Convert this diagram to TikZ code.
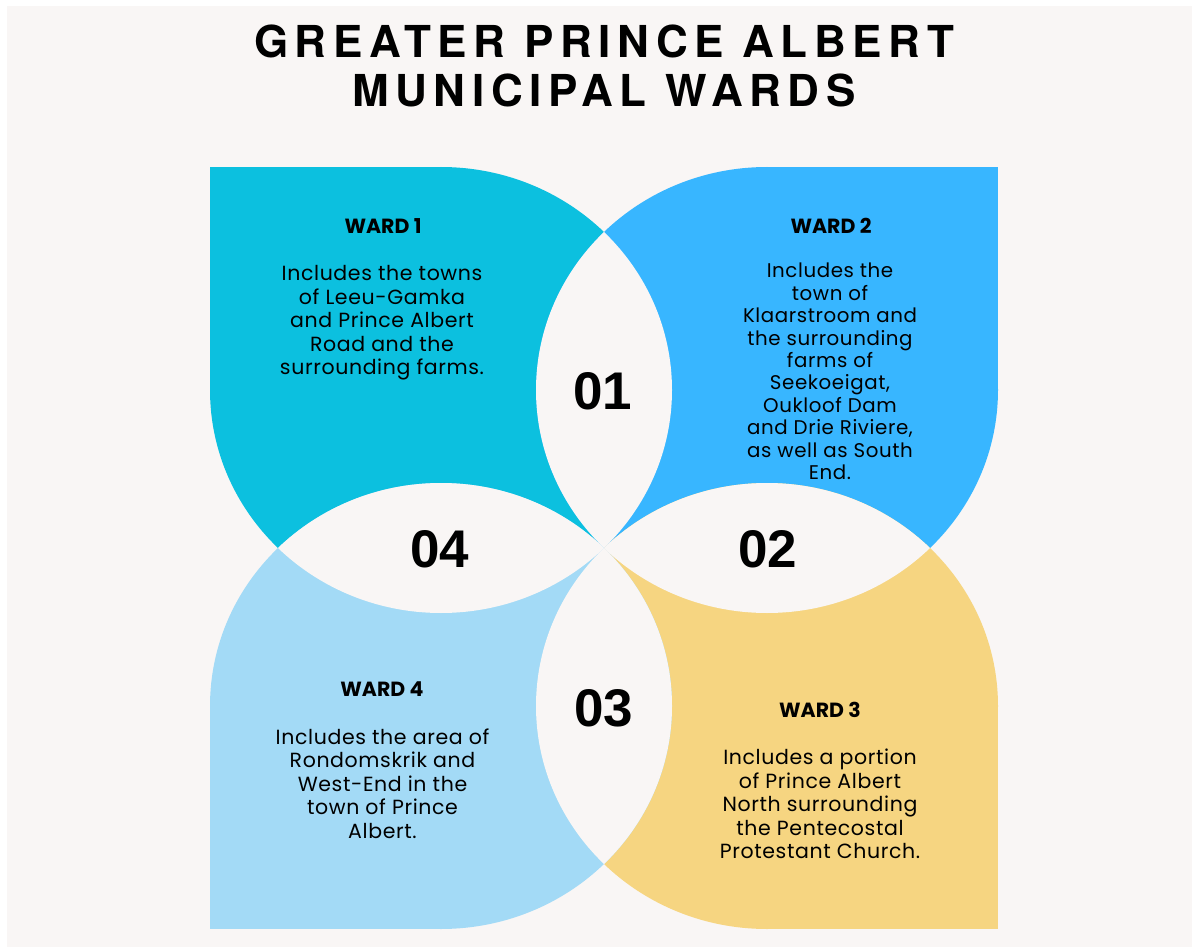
\documentclass[tikz,border=0pt]{standalone}
\usepackage{fontspec}
\setmainfont{Poppins}
\newfontfamily\titlefont[LetterSpace=15]{TeX Gyre Heros}
\newfontfamily\bodyfont[LetterSpace=3]{Poppins}
\newfontfamily\numberfont{Liberation Sans}
\usepackage{tikz}

\definecolor{paper}{HTML}{F9F6F5}
\definecolor{wardA}{HTML}{0CC0DF}
\definecolor{wardB}{HTML}{38B6FF}
\definecolor{wardC}{HTML}{F6D581}
\definecolor{wardD}{HTML}{A3DAF6}

\tikzset{
	wardlabel/.style = {font = \fontsize{20.5}{22}\selectfont\bfseries},
	wardtext/.style = {align = center, font = \bodyfont\fontsize{20.5}{23.5}\selectfont},
	wardnumber/.style = {font = \numberfont\bfseries\fontsize{53}{53}\selectfont}
}

\begin{document}
\begin{tikzpicture}[x = 1pt, y = -1pt]

	% Definition
	
	\def\RX{231}	% Horizontal radius of petal
	\def\RY{223}	% Vertical radius of petal
	
	% Page
	
	\useasboundingbox (0, 0) rectangle (1192, 947);
	\fill [white] (0, 0) rectangle (1192, 947);
	\fill [paper] (7, 6) rectangle (1192, 947);
	
	% Petals: square corner + ellipse
	
	\foreach \cx/\cy/\kx/\ky/\col in {441/390/210/167/wardA, 767/390/998/167/wardB, 767/706/998/929/wardC, 441/706/210/929/wardD}
	{
		\fill [\col] (\kx, \ky) rectangle (\cx, \cy);
		\fill [\col] (\cx, \cy) ellipse [x radius = \RX, y radius = \RY];
	}
	
	% Overlaps of neighbouring petals
	
	\foreach \ax/\ay/\bx/\by in {441/390/767/390, 767/390/767/706, 767/706/441/706, 441/706/441/390}
	{
		\begin{scope}
			\clip (\ax, \ay) ellipse [x radius = \RX, y radius = \RY];
			\fill [paper] (\bx, \by) ellipse [x radius = \RX, y radius = \RY];
		\end{scope}
	}
	
	% Title
	
	\node [align = center, font = \titlefont\bfseries\fontsize{44}{49}\selectfont] (title) at (604, 66) {GREATER PRINCE ALBERT\\MUNICIPAL WARDS};
	
	% Ward labels
	
	\node [wardlabel] (label1) at (383, 226) {WARD 1};
	\node [wardlabel] (label2) at (831, 226) {WARD 2};
	\node [wardlabel] (label3) at (820, 710) {WARD 3};
	\node [wardlabel] (label4) at (382, 689) {WARD 4};
	
	% Ward texts
	
	\node [wardtext] (text1) at (382, 323) {Includes the towns\\of Leeu-Gamka\\and Prince Albert\\Road and the\\surrounding farms.};
	\node [wardtext, font = \bodyfont\fontsize{19.8}{22.4}\selectfont] (text2) at (830, 371.5) {Includes the\\town of\\Klaarstroom and\\the surrounding\\farms of\\Seekoeigat,\\Oukloof Dam\\and Drie Riviere,\\as well as South\\End.};
	\node [wardtext] (text3) at (820, 804) {Includes a portion\\of Prince Albert\\North surrounding\\the Pentecostal\\Protestant Church.};
	\node [wardtext] (text4) at (382.5, 783.5) {Includes the area of\\Rondomskrik and\\West-End in the\\town of Prince\\Albert.};
	
	% Ward numbers
	
	\node [wardnumber] (number1) at (603, 391) {01};
	\node [wardnumber] (number2) at (768, 549) {02};
	\node [wardnumber] (number3) at (604, 708) {03};
	\node [wardnumber] (number4) at (440, 549) {04};

\end{tikzpicture}
\end{document}
